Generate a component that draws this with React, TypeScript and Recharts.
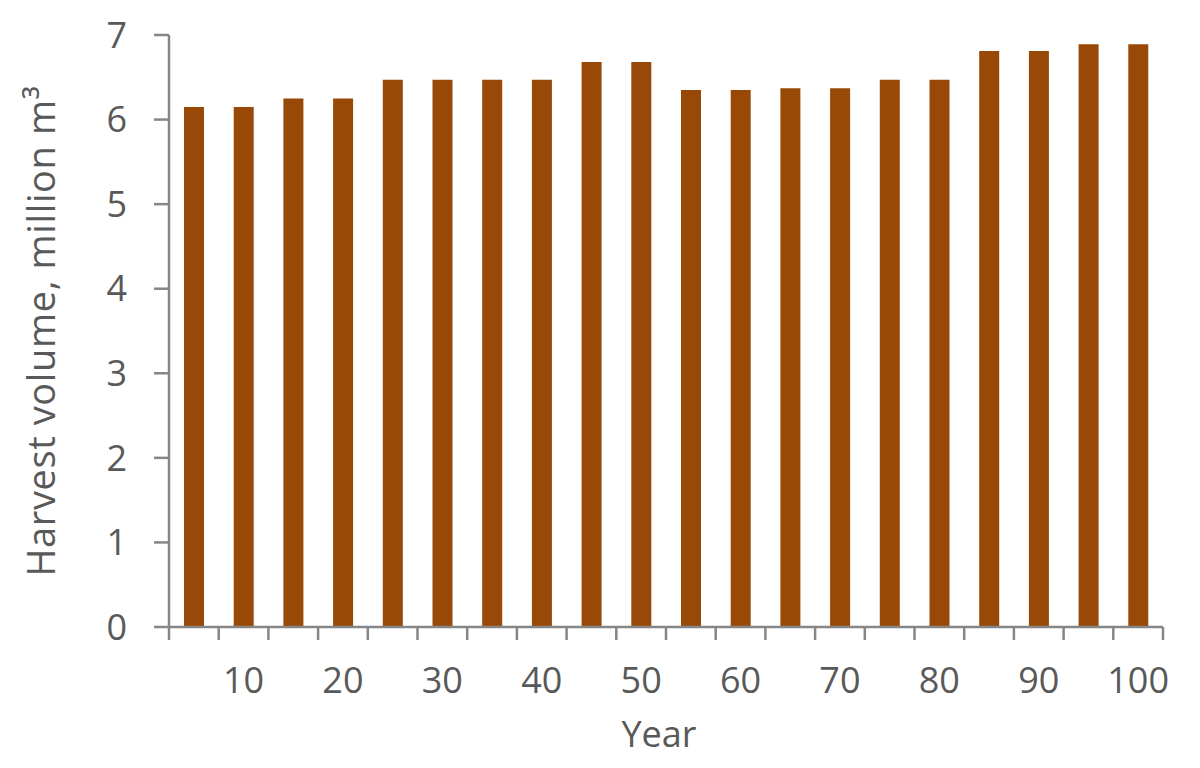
import { Bar, BarChart, Label, XAxis, YAxis } from 'recharts';

const years = [5, 10, 15, 20, 25, 30, 35, 40, 45, 50, 55, 60, 65, 70, 75, 80, 85, 90, 95, 100];
const harvest = [
  6.15, 6.15, 6.25, 6.25, 6.47, 6.47, 6.47, 6.47, 6.68, 6.68,
  6.35, 6.35, 6.37, 6.37, 6.47, 6.47, 6.81, 6.81, 6.89, 6.89
];
const yTicks = [0, 1, 2, 3, 4, 5, 6, 7];

const data = years.map((year, i) => ({ year, volume: harvest[i] }));

const W = 1200;
const H = 768;
const PLOT_LEFT = 169;
const PLOT_RIGHT = 1163;
const PLOT_TOP = 35;
const PLOT_BOTTOM = 627;
const BAND = (PLOT_RIGHT - PLOT_LEFT) / years.length;

const AXIS = '#868686';
const TEXT = '#595959';
const FONT = '"Open Sans", sans-serif';

function YearTick(props: any) {
  const { x, y, payload, index } = props;
  const showLabel = payload.value % 10 === 0;
  const last = index === years.length - 1;
  return (
    <g>
      <line x1={x - BAND / 2} x2={x - BAND / 2} y1={y} y2={y + 13} stroke={AXIS} strokeWidth={2.5} />
      {last && (
        <line x1={x + BAND / 2} x2={x + BAND / 2} y1={y} y2={y + 13} stroke={AXIS} strokeWidth={2.5} />
      )}
      {showLabel && (
        <text x={x} y={y + 66} textAnchor="middle" fill={TEXT} fontSize={36} fontFamily={FONT}>
          {payload.value}
        </text>
      )}
    </g>
  );
}

export default function App() {
  return (
    <div style={{ position: 'absolute', left: 0, top: 0, width: W, height: H, background: '#fff' }}>
      <BarChart
        width={W}
        height={H}
        data={data}
        margin={{ top: PLOT_TOP, right: W - PLOT_RIGHT, bottom: 0, left: PLOT_LEFT - 100 }}
      >
        <XAxis
          dataKey="year"
          interval={0}
          height={H - PLOT_BOTTOM}
          stroke={AXIS}
          strokeWidth={2.5}
          tickLine={false}
          tickSize={0}
          tickMargin={0}
          tick={<YearTick />}
        >
          <Label
            content={(p: any) => {
              const vb = p.viewBox;
              return (
                <text
                  x={vb.x + vb.width / 2 - 7}
                  y={vb.y + 120}
                  textAnchor="middle"
                  fill={TEXT}
                  fontSize={36}
                  fontFamily={FONT}
                >
                  Year
                </text>
              );
            }}
          />
        </XAxis>
        <YAxis
          width={100}
          domain={[0, 7]}
          ticks={yTicks}
          interval={0}
          stroke={AXIS}
          strokeWidth={2.5}
          tickSize={15}
          tickMargin={27}
          tick={{ fill: TEXT, fontSize: 36, fontFamily: FONT }}
        >
          <Label
            content={(p: any) => {
              const vb = p.viewBox;
              const cy = vb.y + vb.height / 2;
              return (
                <text
                  x={55}
                  y={cy}
                  transform={`rotate(-90 55 ${cy})`}
                  textAnchor="middle"
                  fill={TEXT}
                  fontSize={38}
                  letterSpacing={0.6}
                  fontFamily={FONT}
                >
                  Harvest volume, million m³
                </text>
              );
            }}
          />
        </YAxis>
        <Bar dataKey="volume" fill="#984807" barSize={20} isAnimationActive={false} />
      </BarChart>
    </div>
  );
}
